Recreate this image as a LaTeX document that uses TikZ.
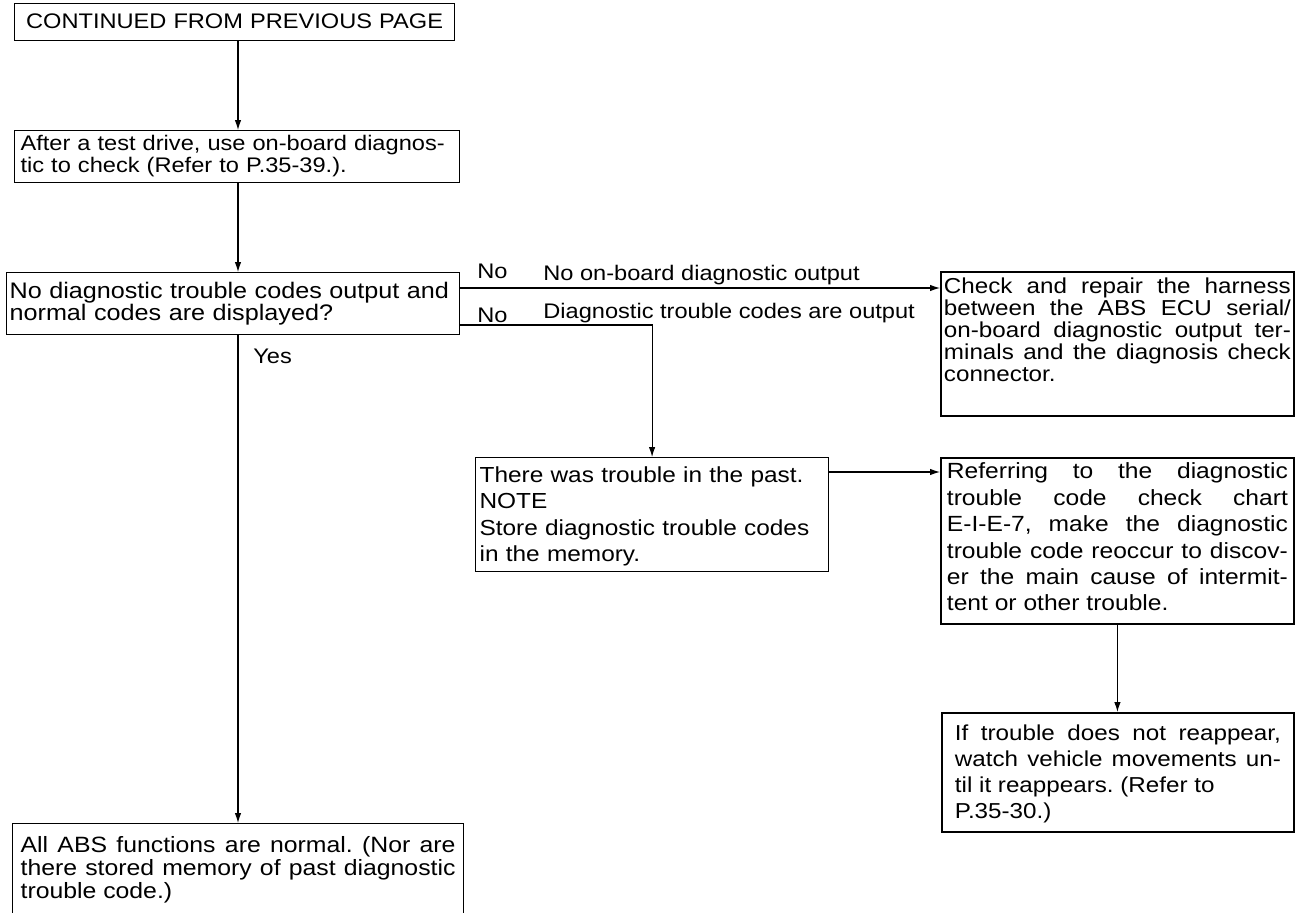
\documentclass[tikz,border=0pt]{standalone}
\usepackage{fontspec}
\setmainfont{Liberation Sans}[FakeStretch=1.12]
\usetikzlibrary{arrows.meta}
\frenchspacing

\begin{document}
\begin{tikzpicture}[x=0.02cm, y=-0.02cm,
  box/.style={draw, line width=0.7pt, anchor=north west, inner ysep=0pt},
  heavybox/.style={box, line width=1.1pt},
  lbl/.style={anchor=base west, inner sep=0pt, font=\fontsize{12}{14}\selectfont},
  arr/.style={line width=0.6pt, -{Latex[length=2mm,width=1.3mm]}}]
\useasboundingbox[fill=white] (0,0) rectangle (1296,913);

% left column
\node[box, text width=8.36cm, inner xsep=0.22cm, text height=0.5cm, text depth=0.24cm,
  align=center, font=\fontsize{12}{14}\selectfont] (cont) at (14,3) {CONTINUED FROM PREVIOUS PAGE};
\node[box, text width=8.66cm, inner xsep=0.12cm, text height=0.4cm, text depth=0.64cm,
  align=left, font=\fontsize{12}{12.5}\selectfont] (drive) at (14,130)
  {After a test drive, use on-board diagnos-\\tic to check (Refer to P.35-39.).};
\node[box, text width=8.94cm, inner xsep=0.06cm, text height=0.52cm, text depth=0.72cm,
  align=left, font=\fontsize{12.8}{12.5}\selectfont] (query) at (6,272)
  {No diagnostic trouble codes output and\\normal codes are displayed?};
\node[box, text width=8.7cm, inner xsep=0.16cm, text height=0.58cm, text depth=1.5cm,
  align=justify, font=\fontsize{12.6}{13.1}\selectfont] (normal) at (12,823)
  {All ABS functions are normal. (Nor are\linebreak there stored memory of past diagnostic\linebreak trouble code.)};

% middle
\node[box, text width=6.9cm, inner xsep=0.08cm, text height=0.5cm, text depth=1.78cm,
  align=left, font=\fontsize{12.4}{15}\selectfont] (past) at (475,457)
  {There was trouble in the past.\\NOTE\\Store diagnostic trouble codes\\in the memory.};

% right column
\node[heavybox, text width=6.94cm, inner xsep=0.06cm, text height=0.44cm, text depth=2.44cm,
  align=justify, font=\fontsize{12.3}{12.5}\selectfont] (harness) at (940,271)
  {Check and repair the harness\linebreak between the ABS ECU serial/\linebreak on-board diagnostic output ter-\linebreak minals and the diagnosis check\linebreak connector.};
\node[heavybox, text width=6.82cm, inner xsep=0.12cm, text height=0.42cm, text depth=2.9cm,
  align=justify, font=\fontsize{12.5}{15}\selectfont] (chart) at (940,457)
  {Referring to the diagnostic\linebreak trouble code check chart\linebreak E-I-E-7, make the diagnostic\linebreak trouble code reoccur to discov-\linebreak er the main cause of intermit-\linebreak tent or other trouble.};
\node[heavybox, text width=6.52cm, inner xsep=0.26cm, text height=0.56cm, text depth=1.82cm,
  align=justify, font=\fontsize{12.3}{14.8}\selectfont] (reappear) at (941,712)
  {If trouble does not reappear,\linebreak watch vehicle movements un-\linebreak til it reappears. (Refer to\\P.35-30.)};

% branch labels
\node[lbl] (noA) at (477,278) {No};
\node[lbl] (noB) at (477,322) {No};
\node[lbl] (noAtxt) at (543,280) {No on-board diagnostic output};
\node[lbl] (noBtxt) at (543,318) {Diagnostic trouble codes are output};
\node[lbl] (yes) at (253,363) {Yes};

% connectors
\coordinate (spine) at (238,0);
\coordinate (hiA) at (0,288);
\coordinate (loA) at (0,325);
\coordinate (midA) at (0,472);
\draw[arr] (cont.south -| spine) -- (drive.north -| spine);
\draw[arr] (drive.south -| spine) -- (query.north -| spine);
\draw[arr] (query.south -| spine) -- (normal.north -| spine);
\draw[arr] (query.east |- hiA) -- (harness.west |- hiA);
\draw[arr] (query.east |- loA) -| (past.north);
\draw[arr] (past.east |- midA) -- (chart.west |- midA);
\draw[arr] (chart.south) -- (chart.south |- reappear.north);
\end{tikzpicture}
\end{document}
